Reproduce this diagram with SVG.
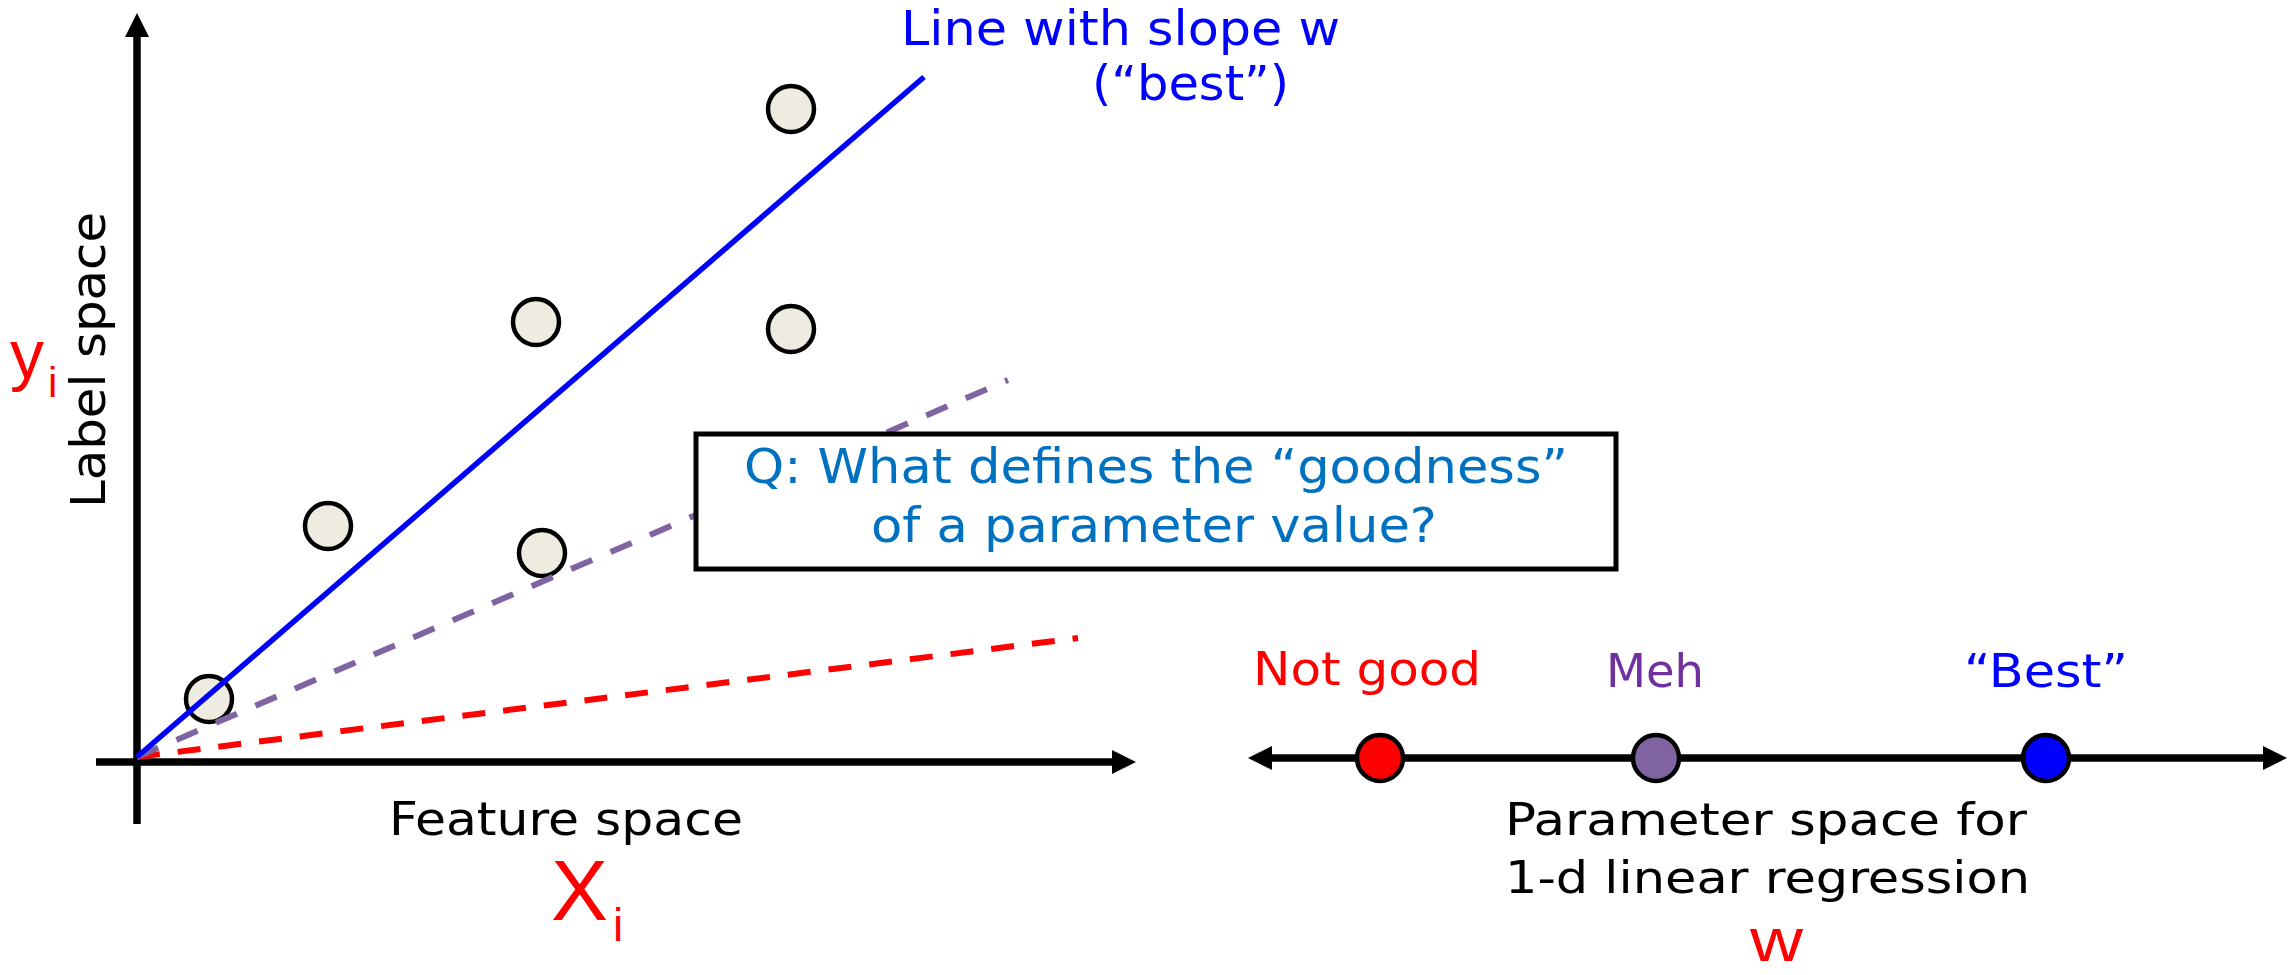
<svg xmlns="http://www.w3.org/2000/svg" width="2291" height="975" viewBox="0 0 2291 975">
<style>
.t{font-family:"DejaVu Sans Condensed","DejaVu Sans",sans-serif;font-stretch:condensed}
.hw{font-family:"Liberation Sans",Arial,sans-serif;fill:#FF0000}
.pt{fill:#EEECE1;stroke:#000;stroke-width:4.5}
.pp{stroke:#000;stroke-width:4.5}
.axis{stroke:#000;stroke-width:7.5;fill:none}
</style>
<defs>
<marker id="arrow" markerUnits="userSpaceOnUse" markerWidth="24" markerHeight="24" viewBox="0 0 24 24" refX="0" refY="12" orient="auto-start-reverse">
<path d="M0,0 L24,12 L0,24 z" fill="#000"/>
</marker>
</defs>
<rect width="2291" height="975" fill="#fff"/>

<g id="connectors">
<line class="axis" x1="137" y1="824" x2="137" y2="37" marker-end="url(#arrow)"/>
<line class="axis" x1="96" y1="762" x2="1112" y2="762" marker-end="url(#arrow)"/>
<line class="axis" x1="1272" y1="758" x2="2263" y2="758" marker-start="url(#arrow)" marker-end="url(#arrow)"/>
</g>

<g id="data-points">
<circle id="p1" class="pt" cx="209" cy="699" r="23"/>
<circle id="p2" class="pt" cx="328" cy="526" r="23"/>
<circle id="p3" class="pt" cx="536" cy="322" r="23"/>
<circle id="p4" class="pt" cx="542" cy="553" r="23"/>
<circle id="p5" class="pt" cx="791" cy="109" r="23"/>
<circle id="p6" class="pt" cx="791" cy="329" r="23"/>
</g>

<g id="fit-lines">
<line x1="137" y1="757" x2="1078" y2="638" stroke="#FF0000" stroke-width="6" stroke-dasharray="23 18"/>
<line x1="137" y1="757" x2="1008" y2="380" stroke="#8064A2" stroke-width="6" stroke-dasharray="23 20"/>
<line x1="137" y1="757" x2="924" y2="77" stroke="#0000FF" stroke-width="5.5"/>
</g>

<g id="question-box">
<rect x="696" y="434" width="920" height="135" fill="#fff" stroke="#000" stroke-width="5"/>
<text class="t" x="1156" y="483" font-size="48" fill="#0070C0" text-anchor="middle" textLength="824" lengthAdjust="spacingAndGlyphs">Q: What defines the “goodness”</text>
<text class="t" x="1154" y="542" font-size="48" fill="#0070C0" text-anchor="middle" textLength="566" lengthAdjust="spacingAndGlyphs">of a parameter value?</text>
</g>

<g id="line-label">
<text class="t" x="901" y="45" font-size="48" fill="#0000FF" textLength="439" lengthAdjust="spacingAndGlyphs">Line with slope w</text>
<text class="t" x="1092" y="100" font-size="48" fill="#0000FF" textLength="197" lengthAdjust="spacingAndGlyphs">(“best”)</text>
</g>

<g id="axis-labels">
<text class="t" transform="translate(105,360) rotate(-90)" x="0" y="0" font-size="48" fill="#000" text-anchor="middle" textLength="296" lengthAdjust="spacingAndGlyphs">Label space</text>
<text class="t" x="389" y="835" font-size="46" fill="#000" textLength="354" lengthAdjust="spacingAndGlyphs">Feature space</text>
<text class="t" x="1505" y="835" font-size="44" fill="#000" textLength="522" lengthAdjust="spacingAndGlyphs">Parameter space for</text>
<text class="t" x="1505" y="893" font-size="44" fill="#000" textLength="525" lengthAdjust="spacingAndGlyphs">1-d linear regression</text>
</g>

<g id="handwriting">
<text class="hw" x="10" y="378" font-size="68">y</text>
<text class="hw" x="48" y="397" font-size="42">i</text>
<text class="hw" x="551" y="920" font-size="86" textLength="57" lengthAdjust="spacingAndGlyphs">X</text>
<text class="hw" x="613" y="941" font-size="46">i</text>
<text class="hw" x="1750" y="961" font-size="62" textLength="53" lengthAdjust="spacingAndGlyphs">w</text>
</g>

<g id="param-not-good">
<circle class="pp" cx="1380" cy="758" r="23" fill="#FF0000"/>
<text class="t" x="1253" y="685" font-size="46" fill="#FF0000" textLength="228" lengthAdjust="spacingAndGlyphs">Not good</text>
</g>
<g id="param-meh">
<circle class="pp" cx="1656" cy="758" r="23" fill="#8064A2"/>
<text class="t" x="1606" y="687" font-size="46" fill="#7030A0" textLength="98" lengthAdjust="spacingAndGlyphs">Meh</text>
</g>
<g id="param-best">
<circle class="pp" cx="2046" cy="758" r="23" fill="#0000FF"/>
<text class="t" x="1964" y="687" font-size="46" fill="#0000FF" textLength="164" lengthAdjust="spacingAndGlyphs">“Best”</text>
</g>
</svg>
